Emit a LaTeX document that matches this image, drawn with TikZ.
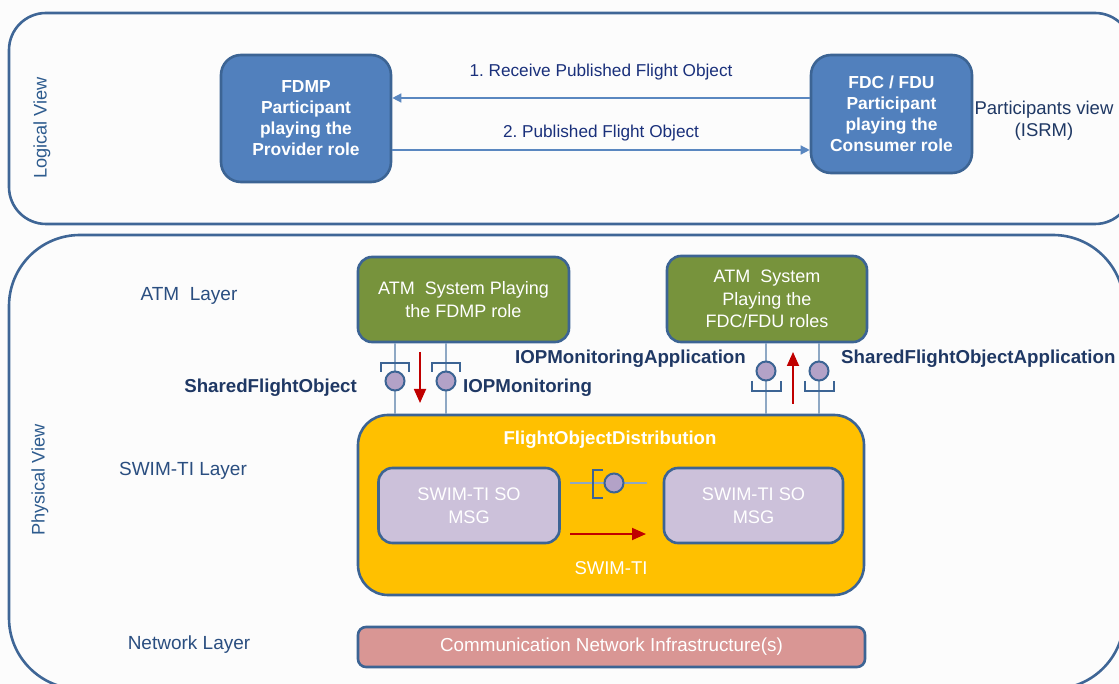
\documentclass[tikz,border=0pt]{standalone}
\usepackage{fontspec}
\setmainfont{Liberation Sans}
\usetikzlibrary{arrows.meta}
\definecolor{bgc}{HTML}{FCFCFC}
\definecolor{outerc}{HTML}{3F6696}
\definecolor{bluefill}{HTML}{5180BD}
\definecolor{blueedge}{HTML}{3C6494}
\definecolor{greenfill}{HTML}{77933C}
\definecolor{orangefill}{HTML}{FFC000}
\definecolor{lavfill}{HTML}{CCC1DA}
\definecolor{pinkfill}{HTML}{D99694}
\definecolor{ifacefill}{HTML}{B3A2C7}
\definecolor{linec}{HTML}{8EA8C4}
\definecolor{redc}{HTML}{C00000}
\definecolor{navyc}{HTML}{1F3864}
\definecolor{layerc}{HTML}{2A4E80}
\definecolor{viewc}{HTML}{2D5B8E}
\definecolor{arrowblue}{HTML}{5A87C0}
\frenchspacing
\begin{document}
\begin{tikzpicture}[x=1pt,y=-1pt,
  outer/.style={draw=outerc,line width=2.6pt},
  bluebox/.style={draw=blueedge,fill=bluefill,line width=2.6pt,rounded corners=20pt,
    text=white,align=center,font=\fontsize{17.4}{21}\selectfont\bfseries,inner sep=0pt},
  greenbox/.style={draw=blueedge,fill=greenfill,line width=2.6pt,rounded corners=14pt,
    text=white,align=center,font=\fontsize{18}{22.5}\selectfont,inner sep=0pt},
  msgbox/.style={draw=blueedge,fill=lavfill,line width=2.6pt,rounded corners=14pt,
    text=white,align=center,font=\fontsize{18.2}{23}\selectfont,inner sep=0pt},
  bluearrow/.style={draw=arrowblue,line width=1.3pt,-{Triangle[length=9pt,width=9pt]}},
  redarrow/.style={draw=redc,line width=1.8pt,-{Triangle[length=14pt,width=12pt]}},
  iline/.style={draw=linec,line width=1.3pt},
  iface/.style={circle,draw=blueedge,fill=ifacefill,line width=2pt,minimum size=19pt,inner sep=0pt},
  bracket/.style={draw=blueedge,line width=2pt},
  ilabel/.style={text=navyc,font=\fontsize{18.7}{22}\selectfont\bfseries,inner sep=0pt},
  layerlabel/.style={text=layerc,font=\fontsize{19}{22}\selectfont,inner sep=0pt},
  viewlabel/.style={text=viewc,font=\fontsize{18.2}{22}\selectfont,inner sep=0pt,rotate=90},
  msglabel/.style={text=navyc!85!blue,font=\fontsize{17.2}{21}\selectfont,inner sep=0pt}
]
\useasboundingbox (0,0) rectangle (1119,684);
\fill[bgc] (0,0) rectangle (1119,684);
\begin{scope}
  \clip (0,0) rectangle (1119,684);
  \draw[outer,rounded corners=37pt] (9,13) rectangle (1132,224);
  \draw[outer,rounded corners=71pt] (9,235) rectangle (1124,689);
\end{scope}

% view labels
\node[viewlabel] (logv) at (42,128) {Logical View};
\node[viewlabel] (physv) at (40,480) {Physical View};

% logical view
\node[bluebox,minimum width=170pt,minimum height=127pt] (fdmp) at (306,118.5)
  {FDMP\\Participant\\playing the\\Provider role};
\node[bluebox,minimum width=161pt,minimum height=118pt] (fdc) at (891.5,114)
  {FDC / FDU\\Participant\\playing the\\Consumer role};
\draw[bluearrow] (fdc.west |- 0,98) -- (fdmp.east |- 0,98);
\draw[bluearrow] (fdmp.east |- 0,150) -- (fdc.west |- 0,150);
\node[msglabel] (m1) at (601,72) {1. Receive Published Flight Object};
\node[msglabel] (m2) at (601,133) {2. Published Flight Object};
\node[text=navyc,font=\fontsize{18.5}{22}\selectfont,align=center,inner sep=0pt] (isrm) at (1044,121)
  {Participants view\\(ISRM)};

% layer labels
\node[layerlabel] (atml) at (189,296) {ATM\ \ Layer};
\node[layerlabel] (swiml) at (183,471) {SWIM-TI Layer};
\node[layerlabel] (netl) at (189,645) {Network Layer};

% ATM systems
\node[greenbox,minimum width=211pt,minimum height=85pt] (atm1) at (463.5,299.5)
  {ATM\ \ System Playing\\the FDMP role};
\node[greenbox,minimum width=200pt,minimum height=86pt] (atm2) at (767,299)
  {ATM\ \ System\\Playing the\\FDC/FDU roles};

% SWIM-TI
\node[draw=blueedge,fill=orangefill,line width=2.6pt,rounded corners=30pt,
  minimum width=506pt,minimum height=180pt,inner sep=0pt] (fod) at (611,505) {};
\node[text=white,font=\fontsize{18.6}{21}\selectfont\bfseries,inner sep=0pt] (fodt) at (610,440) {FlightObjectDistribution};
\node[msgbox,minimum width=181pt,minimum height=75pt] (msg1) at (469,505.5) {SWIM-TI SO\\MSG};
\node[msgbox,minimum width=179pt,minimum height=75pt] (msg2) at (753.5,505.5) {SWIM-TI SO\\MSG};
\node[text=white,font=\fontsize{18.5}{22}\selectfont,inner sep=0pt] (swimt) at (611,568) {SWIM-TI};

% network
\node[draw=blueedge,fill=pinkfill,line width=2.6pt,rounded corners=8pt,
  minimum width=507pt,minimum height=40pt,inner sep=0pt,text=white,
  font=\fontsize{18.8}{22}\selectfont] (net) at (611.5,647) {Communication Network Infrastructure(s)};

% left interfaces
\draw[iline] (atm1.south -| 395,0) -- (fod.north -| 395,0);
\draw[iline] (atm1.south -| 446,0) -- (fod.north -| 446,0);
\draw[bracket] (381,372) -- (381,363) -- (409,363) -- (409,372);
\draw[bracket] (432,372) -- (432,363) -- (460,363) -- (460,372);
\node[iface] (ifsfo) at (395,381) {};
\node[iface] (ifiop) at (446,381) {};
\coordinate (ra1) at (420,352);
\coordinate (ra2) at (420,403);
\draw[redarrow] (ra1) -- (ra2);
\node[ilabel,anchor=east] (lsfo) at (357,388) {SharedFlightObject};
\node[ilabel,anchor=west] (liop) at (463,388) {IOPMonitoring};

% right interfaces
\draw[iline] (atm2.south -| 766,0) -- (fod.north -| 766,0);
\draw[iline] (atm2.south -| 819,0) -- (fod.north -| 819,0);
\draw[bracket] (752,381) -- (752,391) -- (781,391) -- (781,381);
\draw[bracket] (805,381) -- (805,391) -- (834,391) -- (834,381);
\node[iface] (ifiopa) at (766,371) {};
\node[iface] (ifsfoa) at (819,371) {};
\coordinate (rb1) at (793,404);
\coordinate (rb2) at (793,352);
\draw[redarrow] (rb1) -- (rb2);
\node[ilabel,anchor=east] (liopa) at (746,359) {IOPMonitoringApplication};
\node[ilabel,anchor=west] (lsfoa) at (841,359) {SharedFlightObjectApplication};

% middle interface
\coordinate (mc1) at (570,483);
\coordinate (mc2) at (647,483);
\draw[iline] (mc1) -- (mc2);
\draw[bracket] (603,470) -- (593,470) -- (593,498) -- (603,498);
\node[iface] (ifmid) at (614,483) {};
\coordinate (rc1) at (570,534);
\coordinate (rc2) at (646,534);
\draw[redarrow] (rc1) -- (rc2);
\end{tikzpicture}
\end{document}
